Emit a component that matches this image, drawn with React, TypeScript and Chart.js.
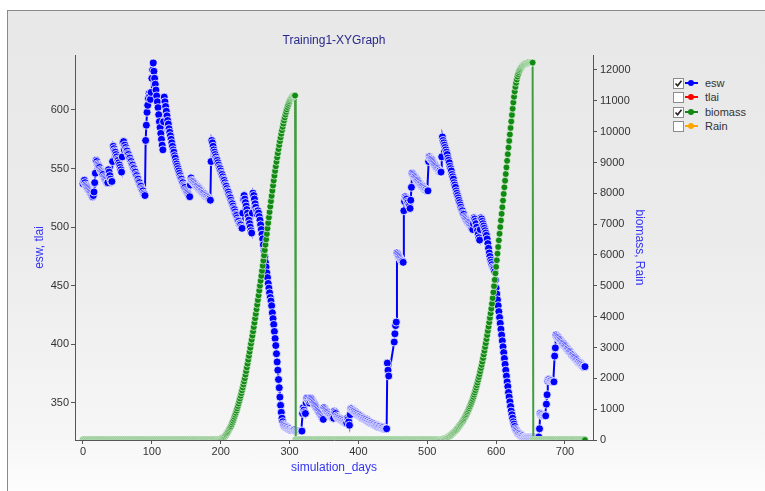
import React, { useEffect, useRef } from 'react';
import { Chart, registerables } from 'chart.js';

Chart.register(...registerables);

// esw per simulation day (0..729); null = no output that day
const esw: (number | null)[] = [
  537, 539, 540, 538, 536, 535, 534, 533, 532, 531, // 0
  530, 529, 528, 527, 526, 527, 530, 538, 546, 557, // 10
  556, 554, 553, 552, 551, 549, 548, 547, 546, 545, // 20
  543, 542, 541, 540, 539, 538, 538, 549, 547, 544, // 30
  541, 539, 539, 556, 569, 567, 565, 564, 562, 560, // 40
  558, 557, 555, 553, 551, 549, 547, 560, 572, 573, // 50
  566, 570, 568, 566, 565, 563, 562, 560, 559, 557, // 60
  556, 554, 553, 551, 550, 548, 547, 545, 544, 542, // 70
  541, 539, 538, 536, 535, 533, 532, 531, 529, 528, // 80
  527, 574, 587, 598, 604, 610, 614, 612, 609, 615, // 90
  627, 634, 640, 633, 627, 622, 617, 612, 607, 602, // 100
  596, 590, 585, 580, 575, 570, 566, 590, 611, 607, // 110
  603, 599, 595, 591, 588, 584, 581, 578, 575, 572, // 120
  569, 566, 564, 561, 559, 556, 554, 552, 550, 548, // 130
  546, 544, 542, 541, 539, 538, 536, 535, 534, 532, // 140
  531, 530, 529, 528, 527, 526, 536, 542, 540, 539, // 150
  539, 538, 537, 537, 536, 535, 535, 534, 533, 533, // 160
  532, 531, 531, 530, 529, 529, 528, 527, 527, 526, // 170
  526, 525, 525, 524, 524, 523, 556, 574, 572, 569, // 180
  566, 564, 562, 560, 558, 557, 555, 553, 551, 550, // 190
  548, 546, 545, 543, 541, 540, 538, 536, 535, 533, // 200
  531, 530, 528, 526, 525, 523, 521, 520, 518, 516, // 210
  515, 513, 511, 510, 508, 506, 505, 503, 503, 502, // 220
  500, 499, 512, 524, 527, 524, 521, 518, 515, 512, // 230
  509, 506, 503, 500, 497, 495, 512, 529, 527, 524, // 240
  520, 517, 514, 511, 514, 512, 509, 506, 502, 498, // 250
  494, 490, 485, 480, 475, 470, 466, 461, 457, 452, // 260
  448, 444, 440, 437, 433, 427, 422, 417, 411, 405, // 270
  399, 392, 385, 378, 370, 363, 355, 348, 342, 337, // 280
  334, 332, 331, 330, 330, 329, 329, 329, 328, 328, // 290
  328, 328, 327, 327, 327, 327, 327, 327, 326, 326, // 300
  326, 326, 326, 326, 326, 326, 326, 326, 326, 341, // 310
  346, 344, 342, 341, 350, 354, 353, 352, 351, 350, // 320
  352, 354, 353, 352, 351, 350, 349, 348, 347, 346, // 330
  345, 344, 343, 342, 341, 340, 339, 338, 337, 336, // 340
  346, 345, 344, 343, 342, 342, 341, 340, 340, 339, // 350
  339, 338, 338, 337, 337, 343, 342, 341, 339, 338, // 360
  338, 337, 337, 336, 336, 336, 335, 335, 335, 334, // 370
  334, 334, 333, 333, 337, 336, 334, 331, 340, 345, // 380
  345, 344, 344, 343, 343, 342, 342, 341, 341, 340, // 390
  340, 339, 339, 339, 338, 338, 337, 337, 337, 336, // 400
  336, 336, 335, 335, 335, 334, 334, 334, 333, 333, // 410
  333, 332, 332, 332, 331, 331, 331, 331, 330, 330, // 420
  330, 330, 329, 329, 329, 329, 329, 328, 328, 328, // 430
  328, 328, 384, 378, 373, null, null, null, null, null, // 440
  null, null, 402, 409, 416, 419, 478, 477, 476, 475, // 450
  474, 473, 472, 471, 471, 470, 514, 522, 526, 525, // 460
  524, 522, 521, 519, 518, 516, 523, 534, 546, 545, // 470
  544, 543, 543, 542, 541, 540, 540, 539, 538, 537, // 480
  537, 536, 535, 535, 534, 533, 533, 532, 532, 531, // 490
  531, 531, 556, 560, 559, 558, 558, 557, 556, 555, // 500
  554, 553, 552, 551, 550, 550, 549, 548, 548, 547, // 510
  547, 560, 577, 574, 572, 570, 568, 566, 564, 562, // 520
  559, 557, 555, 552, 550, 548, 545, 543, 541, 538, // 530
  536, 534, 531, 529, 527, 525, 523, 521, 519, 517, // 540
  515, 514, 512, 511, 509, 508, 507, 506, 505, 504, // 550
  504, 503, 502, 501, 500, 499, 498, 503, 508, 507, // 560
  505, 503, 500, 497, 494, 491, 489, 498, 508, 507, // 570
  505, 503, 501, 499, 497, 495, 493, 490, 486, 482, // 580
  478, 475, 472, 470, 468, 466, 465, 464, 462, 455, // 590
  448, 443, 438, 433, 428, 423, 418, 413, 408, 403, // 600
  398, 393, 388, 383, 378, 373, 368, 364, 359, 355, // 610
  351, 347, 343, 340, 337, 334, 332, 330, 328, 327, // 620
  326, 325, 324, 324, 323, 323, 322, 322, 322, 322, // 630
  321, 321, 321, 321, 321, 321, 321, 321, 321, 321, // 640
  321, 321, 321, 321, 321, 321, 321, 321, 321, 321, // 650
  321, 321, 321, 328, 341, 340, 340, 339, 339, 339, // 660
  339, 339, 339, 349, 357, 369, 370, 370, 369, 369, // 670
  369, 368, 368, 368, 368, 390, 397, 408, 407, 406, // 680
  406, 405, 404, 404, 403, 402, 401, 401, 400, 399, // 690
  399, 398, 397, 396, 396, 395, 394, 394, 393, 392, // 700
  391, 391, 390, 389, 389, 388, 387, 387, 386, 385, // 710
  385, 384, 384, 383, 383, 382, 382, 381, 381, 381, // 720
];

// biomass per simulation day (0..729)
const biomass: number[] = [
  0, 0, 0, 0, 0, 0, 0, 0, 0, 0, // 0
  0, 0, 0, 0, 0, 0, 0, 0, 0, 0, // 10
  0, 0, 0, 0, 0, 0, 0, 0, 0, 0, // 20
  0, 0, 0, 0, 0, 0, 0, 0, 0, 0, // 30
  0, 0, 0, 0, 0, 0, 0, 0, 0, 0, // 40
  0, 0, 0, 0, 0, 0, 0, 0, 0, 0, // 50
  0, 0, 0, 0, 0, 0, 0, 0, 0, 0, // 60
  0, 0, 0, 0, 0, 0, 0, 0, 0, 0, // 70
  0, 0, 0, 0, 0, 0, 0, 0, 0, 0, // 80
  0, 0, 0, 0, 0, 0, 0, 0, 0, 0, // 90
  0, 0, 0, 0, 0, 0, 0, 0, 0, 0, // 100
  0, 0, 0, 0, 0, 0, 0, 0, 0, 0, // 110
  0, 0, 0, 0, 0, 0, 0, 0, 0, 0, // 120
  0, 0, 0, 0, 0, 0, 0, 0, 0, 0, // 130
  0, 0, 0, 0, 0, 0, 0, 0, 0, 0, // 140
  0, 0, 0, 0, 0, 0, 0, 0, 0, 0, // 150
  0, 0, 0, 0, 0, 0, 0, 0, 0, 0, // 160
  0, 0, 0, 0, 0, 0, 0, 0, 0, 0, // 170
  0, 0, 0, 0, 0, 0, 0, 0, 0, 0, // 180
  0, 0, 0, 0, 0, 0, // 190-195
  5, 10, 16, 24, 33, 44, 56, 70, 85, 100, // 196
  125, 152, 182, 215, 250, 290, 330, 370, 410, 450, // 206
  505, 562, 622, 685, 750, 815, 880, 950, 1025, 1100, // 216
  1180, 1262, 1346, 1432, 1520, 1610, 1702, 1798, 1897, 2000, // 226
  2115, 2232, 2352, 2475, 2600, 2728, 2858, 2990, 3124, 3250, // 236
  3385, 3522, 3661, 3802, 3945, 4090, 4237, 4386, 4537, 4690, // 246
  4845, 5002, 5161, 5322, 5485, 5650, 5817, 5986, 6157, 6330, // 256
  6505, 6682, 6860, 7038, 7216, 7393, 7569, 7743, 7915, 8084, // 266
  8250, 8412, 8570, 8724, 8874, 9020, 9162, 9300, 9434, 9564, // 276
  9690, 9812, 9930, 10044, 10154, 10260, 10362, 10460, 10553, 10641, // 286
  10723, 10799, 10868, 10930, 10985, 11032, 11071, 11102, 11126, 11144, // 296
  11157, 11165, 11170, // 306-308
  0, // 309
  0, 0, 0, 0, 0, 0, 0, 0, 0, 0, // 310
  0, 0, 0, 0, 0, 0, 0, 0, 0, 0, // 320
  0, 0, 0, 0, 0, 0, 0, 0, 0, 0, // 330
  0, 0, 0, 0, 0, 0, 0, 0, 0, 0, // 340
  0, 0, 0, 0, 0, 0, 0, 0, 0, 0, // 350
  0, 0, 0, 0, 0, 0, 0, 0, 0, 0, // 360
  0, 0, 0, 0, 0, 0, 0, 0, 0, 0, // 370
  0, 0, 0, 0, 0, 0, 0, 0, 0, 0, // 380
  0, 0, 0, 0, 0, 0, 0, 0, 0, 0, // 390
  0, 0, 0, 0, 0, 0, 0, 0, 0, 0, // 400
  0, 0, 0, 0, 0, 0, 0, 0, 0, 0, // 410
  0, 0, 0, 0, 0, 0, 0, 0, 0, 0, // 420
  0, 0, 0, 0, 0, 0, 0, 0, 0, 0, // 430
  0, 0, 0, 0, 0, 0, 0, 0, 0, 0, // 440
  0, 0, 0, 0, 0, 0, 0, 0, 0, 0, // 450
  0, 0, 0, 0, 0, 0, 0, 0, 0, 0, // 460
  0, 0, 0, 0, 0, 0, 0, 0, 0, 0, // 470
  0, 0, 0, 0, 0, 0, 0, 0, 0, 0, // 480
  0, 0, 0, 0, 0, 0, 0, 0, 0, 0, // 490
  0, 0, 0, 0, 0, 0, 0, 0, 0, 0, // 500
  0, 0, 0, 0, 0, 0, 0, 0, // 510-517
  3, 6, 10, 15, 20, 26, 33, 41, 50, 60, // 518
  71, 83, 96, 110, 125, 141, 158, 176, 195, 215, // 528
  236, 258, 281, 305, 330, 356, 383, 411, 440, 470, // 538
  501, 533, 566, 600, 636, 673, 712, 752, 794, 838, // 548
  884, 932, 982, 1034, 1088, 1145, 1204, 1266, 1330, 1397, // 558
  1467, 1540, 1616, 1695, 1777, 1862, 1950, 2041, 2135, 2232, // 568
  2332, 2435, 2541, 2655, 2772, 2892, 3015, 3141, 3270, 3402, // 578
  3537, 3675, 3816, 3960, 4107, 4257, 4420, 4600, 4790, 4990, // 588
  5195, 5405, 5615, 5830, 6045, 6260, 6475, 6690, 6905, 7120, // 598
  7335, 7550, 7765, 7980, 8195, 8410, 8625, 8840, 9055, 9270, // 608
  9485, 9700, 9910, 10120, 10330, 10540, 10745, 10945, 11130, 11300, // 618
  11450, 11580, 11690, 11785, 11865, 11930, 11985, 12030, 12068, 12100, // 628
  12126, 12148, 12166, 12181, 12194, 12205, 12214, 12221, 12227, 12231, // 638
  12234, 12236, 12238, 12239, 12240, 12240, // 648-653
  0, 0, 0, 0, 0, 0, // 654-659
  0, 0, 0, 0, 0, 0, 0, 0, 0, 0, // 660
  0, 0, 0, 0, 0, 0, 0, 0, 0, 0, // 670
  0, 0, 0, 0, 0, 0, 0, 0, 0, 0, // 680
  0, 0, 0, 0, 0, 0, 0, 0, 0, 0, // 690
  0, 0, 0, 0, 0, 0, 0, 0, 0, 0, // 700
  0, 0, 0, 0, 0, 0, 0, 0, 0, 0, // 710
  0, 0, 0, 0, 0, 0, 0, 0, 0, 0, // 720
];

const xTicks = [0, 100, 200, 300, 400, 500, 600, 700];
const eswTicks = [350, 400, 450, 500, 550, 600];
const biomassTicks = [0, 1000, 2000, 3000, 4000, 5000, 6000, 7000, 8000, 9000, 10000, 11000, 12000];

const legendItems = [
  { label: 'esw', color: '#0000ff', checked: true },
  { label: 'tlai', color: '#ff0000', checked: false },
  { label: 'biomass', color: '#118811', checked: true },
  { label: 'Rain', color: '#ffa500', checked: false },
];

const tickFont = { family: '"Liberation Sans Narrow", "Liberation Sans", Arial, sans-serif', size: 11 };
const axisTitleFont = { family: '"Liberation Sans", Arial, sans-serif', size: 12 };
const axisTitleColor = '#3434f4';

export default function App() {
  const canvasRef = useRef<HTMLCanvasElement | null>(null);

  useEffect(() => {
    const canvas = canvasRef.current;
    if (!canvas) return;
    const days = esw.map((_, i) => i);
    const chart = new Chart(canvas, {
      type: 'line',
      data: {
        labels: days,
        datasets: [
          {
            label: 'biomass',
            data: biomass,
            yAxisID: 'yR',
            order: 0,
            borderColor: '#3f9c3f',
            borderWidth: 2,
            pointRadius: 3.4,
            pointBorderWidth: 0.8,
            pointBackgroundColor: '#108a10',
            pointBorderColor: 'rgba(255,255,255,0.8)',
            tension: 0,
            fill: false,
          },
          {
            label: 'esw',
            data: esw,
            yAxisID: 'yL',
            order: 1,
            spanGaps: true,
            borderColor: '#0000ff',
            borderWidth: 2,
            pointRadius: 4,
            pointBorderWidth: 1,
            pointBackgroundColor: '#0000ff',
            pointBorderColor: 'rgba(255,255,255,0.8)',
            tension: 0,
            fill: false,
          },
        ],
      },
      options: {
        responsive: false,
        animation: false,
        events: [],
        layout: { padding: 0 },
        plugins: {
          legend: { display: false },
          tooltip: { enabled: false },
          title: {
            display: true,
            text: 'Training1-XYGraph',
            fullSize: false,
            color: '#28288a',
            font: { family: '"Liberation Sans", Arial, sans-serif', size: 12, weight: 'normal' },
            padding: { top: 33, bottom: 7.6 },
          },
        },
        scales: {
          x: {
            type: 'linear',
            position: 'bottom',
            min: -11.6,
            max: 740.7,
            afterBuildTicks: (s: any) => { s.ticks = xTicks.map((v) => ({ value: v })); },
            afterFit: (s: any) => { s.height = 51; },
            grid: { display: true, drawOnChartArea: false, drawTicks: true, tickLength: 4, color: '#555' },
            border: { display: true, color: '#555', width: 1 },
            ticks: { color: '#333', font: tickFont, padding: 1, maxRotation: 0, autoSkip: false, callback: (v: any) => String(v) },
            title: { display: true, text: 'simulation_days', color: axisTitleColor, font: axisTitleFont, padding: { top: 0, bottom: 16.5 } },
          },
          yL: {
            type: 'linear',
            position: 'left',
            min: 318.4,
            max: 646.9,
            afterBuildTicks: (s: any) => { s.ticks = eswTicks.map((v) => ({ value: v })); },
            afterFit: (s: any) => { s.width = 75; },
            grid: { display: true, drawOnChartArea: false, drawTicks: true, tickLength: 4, color: '#555' },
            border: { display: true, color: '#555', width: 1 },
            ticks: { color: '#333', font: tickFont, padding: 2, autoSkip: false, callback: (v: any) => String(v) },
            title: { display: true, text: 'esw, tlai', color: axisTitleColor, font: axisTitleFont, padding: { top: 32.8, bottom: 0 } },
          },
          yR: {
            type: 'linear',
            position: 'right',
            min: 0,
            max: 12486,
            afterBuildTicks: (s: any) => { s.ticks = biomassTicks.map((v) => ({ value: v })); },
            afterFit: (s: any) => { s.width = 75; },
            grid: { display: true, drawOnChartArea: false, drawTicks: true, tickLength: 4, color: '#555' },
            border: { display: true, color: '#555', width: 1 },
            ticks: { color: '#333', font: tickFont, padding: 3, autoSkip: false, callback: (v: any) => String(v) },
            title: { display: true, text: 'biomass, Rain', color: axisTitleColor, font: axisTitleFont, padding: { top: 21.8, bottom: 0 } },
          },
        },
      },
    } as any);
    return () => chart.destroy();
  }, []);

  return (
    <div style={{ position: 'absolute', left: 0, top: 0, width: 765, height: 491, overflow: 'hidden', background: '#ffffff' }}>
      <div
        style={{
          position: 'absolute', left: 7, top: 10, width: 780, height: 500,
          borderLeft: '1px solid #8a8a8a', borderTop: '1px solid #8a8a8a',
          background: 'linear-gradient(180deg, #e8e8e8 0%, #ebebeb 45%, #f6f6f6 85%, #ffffff 100%)',
        }}
      />
      <canvas ref={canvasRef} width={668} height={491} style={{ position: 'absolute', left: 0, top: 0, width: 668, height: 491 }} />
      {legendItems.map((it, i) => {
        const cy = 83 + i * 14.33;
        return (
          <div key={it.label}>
            <div style={{ position: 'absolute', left: 673, top: cy - 5, width: 9, height: 9, border: '1px solid #8c8c8c', background: '#ffffff' }}>
              {it.checked && (
                <svg width={9} height={9} style={{ position: 'absolute', left: 0, top: 0 }}>
                  <path d="M1.5 4.5 L3.6 6.8 L7.5 1.8" stroke="#222" strokeWidth={1.6} fill="none" />
                </svg>
              )}
            </div>
            <div style={{ position: 'absolute', left: 685, top: cy - 1, width: 13, height: 2, background: it.color }} />
            <div style={{ position: 'absolute', left: 688, top: cy - 3, width: 6, height: 6, borderRadius: 3, background: it.color }} />
            <div style={{ position: 'absolute', left: 705, top: cy - 7, height: 14, lineHeight: '14px', fontSize: 11, fontFamily: '"Liberation Sans", Arial, sans-serif', color: '#333' }}>
              {it.label}
            </div>
          </div>
        );
      })}
    </div>
  );
}
